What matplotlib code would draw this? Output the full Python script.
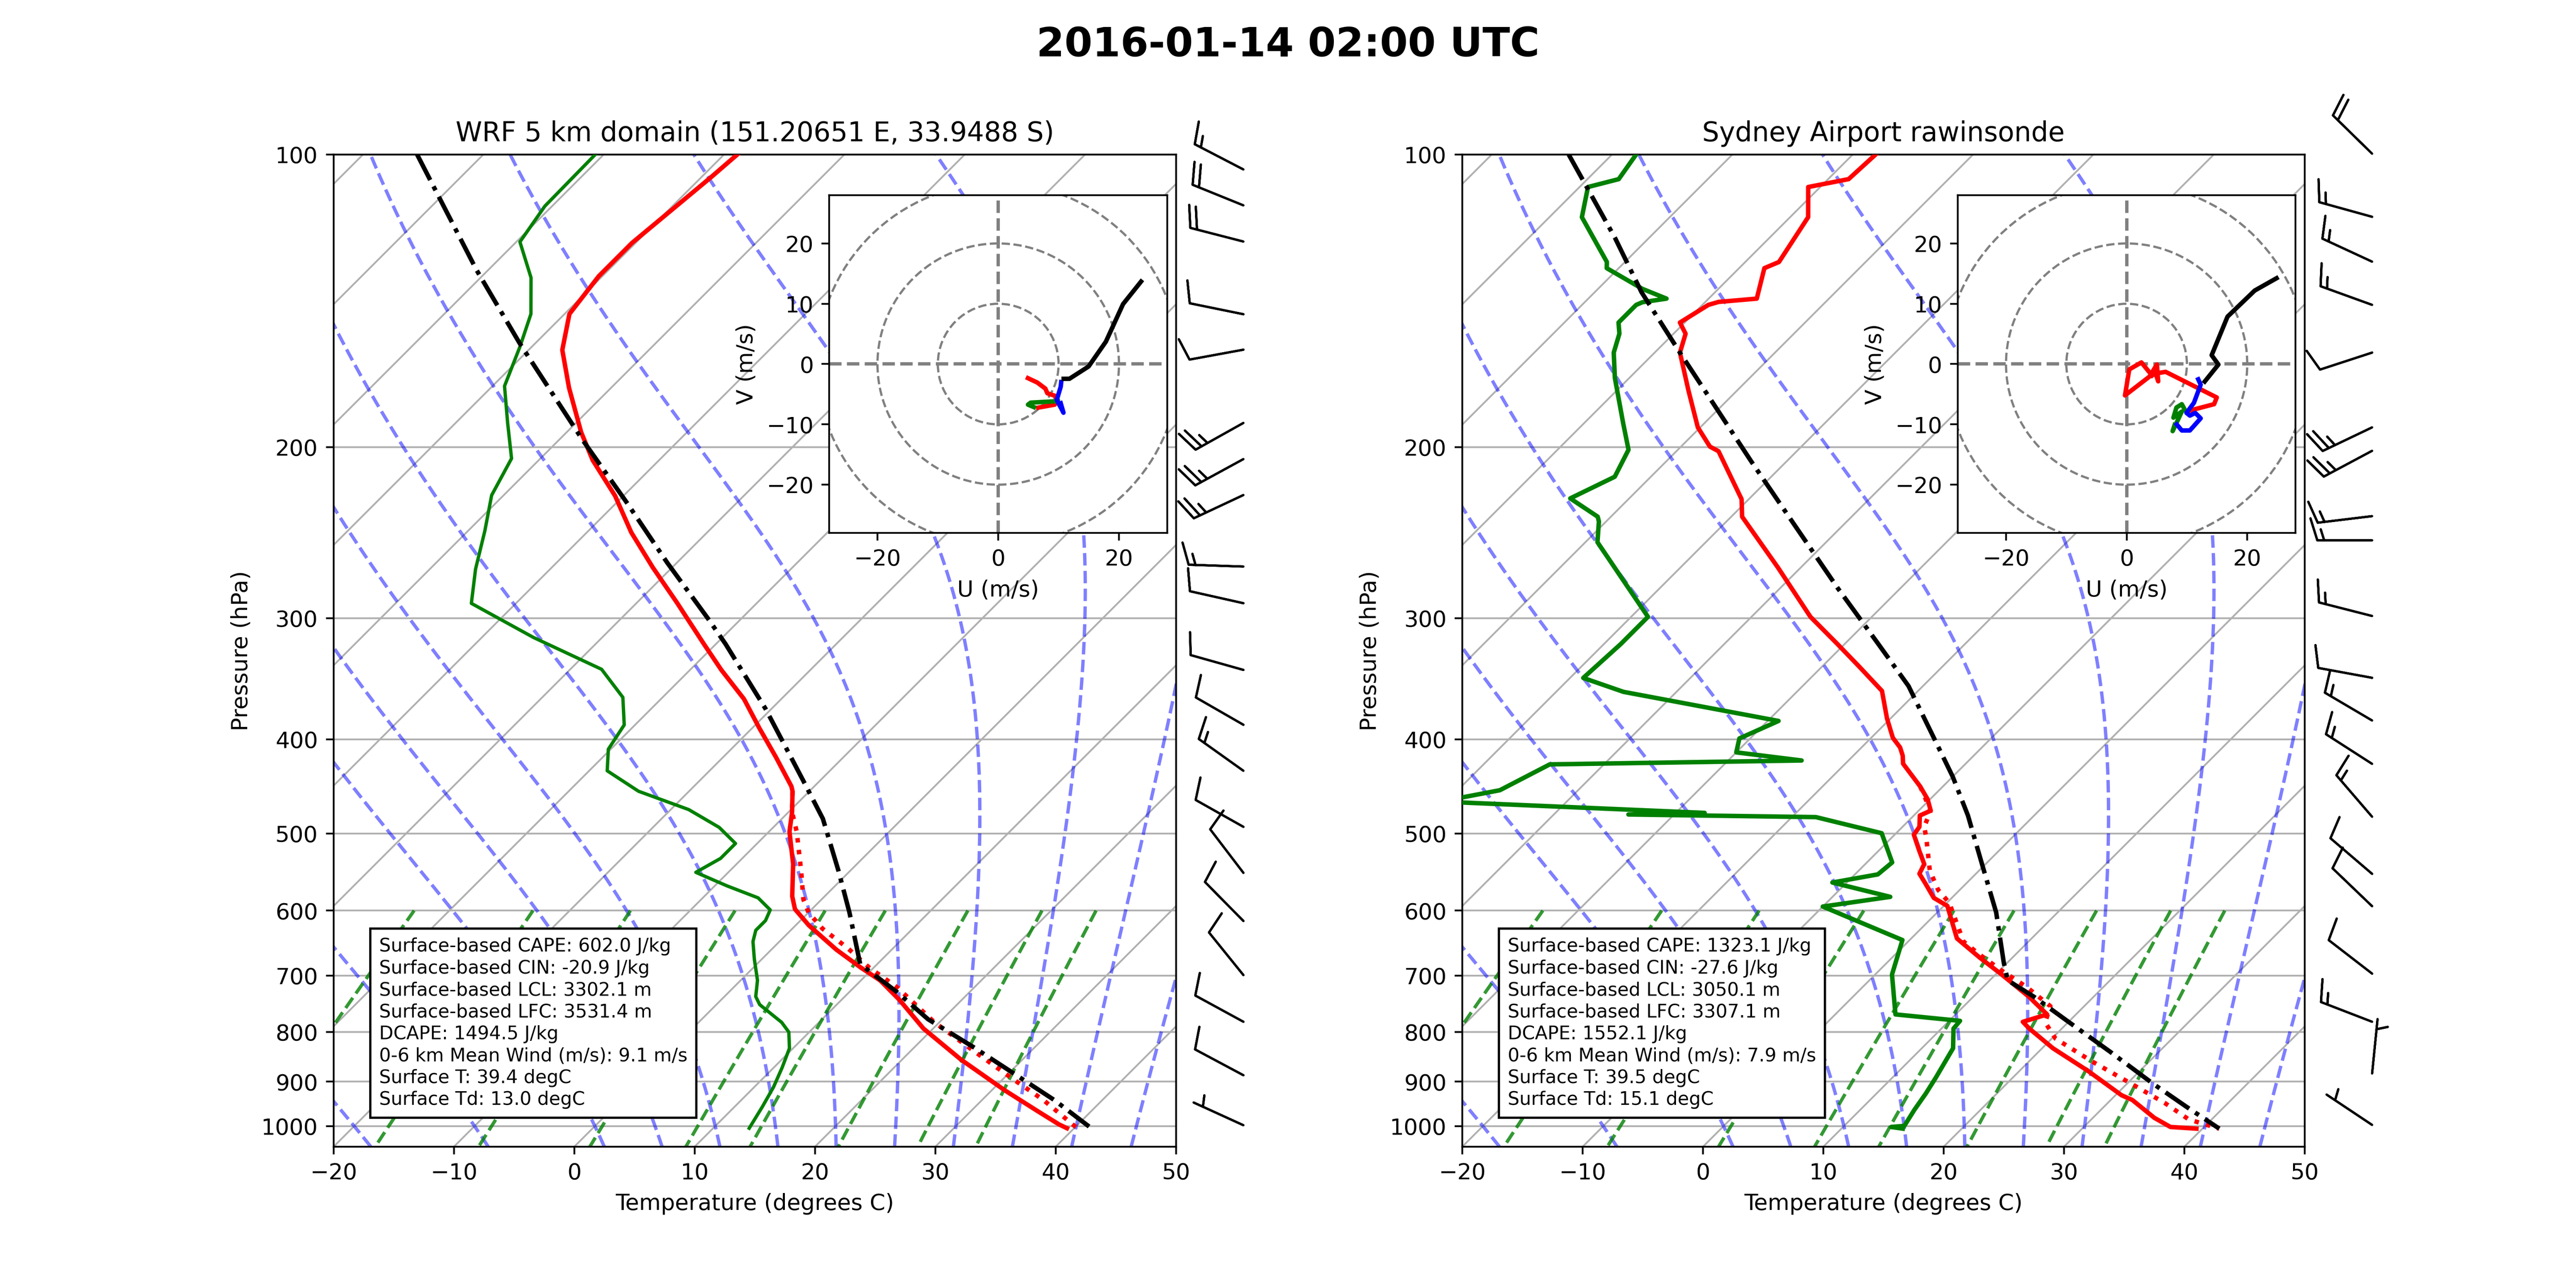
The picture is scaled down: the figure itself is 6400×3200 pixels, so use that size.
import numpy as np
import matplotlib
matplotlib.use("Agg")
import matplotlib.pyplot as plt
from matplotlib.transforms import Affine2D, blended_transform_factory
from matplotlib.ticker import MultipleLocator, ScalarFormatter, NullLocator
from matplotlib.patches import Circle

# ---------------------------------------------------------------- DATA
suptitle = "2016-01-14 02:00 UTC"
titles = ["WRF 5 km domain (151.20651 E, 33.9488 S)", "Sydney Airport rawinsonde"]

# ---- left panel (WRF)
wrf_t_p = [100, 105.6, 123.3, 133.4, 145.9, 158.9, 173.8, 193.1, 206.4, 224.5, 244.9, 266.1,
           289.1, 319, 339.2, 363.4, 389.4, 417.2, 447.0, 452.2, 475.2, 497.6, 537.4, 580.0,
           598.0, 621.4, 658.2, 686.6, 708.0, 741.2, 793.6, 854.2, 918.8, 965.7, 995.7, 1005]
wrf_t = [-68.9, -69.2, -70.3, -70.3, -69.6, -67.2, -63.5, -58.8, -55.5, -50.7, -46.3, -41.6,
         -36.7, -31.0, -27.4, -23.1, -19.4, -15.6, -11.9, -11.4, -9.7, -8.3, -5.3, -2.7,
         -1.4, 1.1, 5.4, 8.9, 11.6, 14.8, 19.2, 24.9, 31.1, 35.6, 38.4, 39.4]
wrf_td_p = [100, 113.0, 123.0, 133.9, 145.9, 157.6, 173.1, 188.8, 205.5, 224.2, 244.0, 267.1,
            289.7, 314.1, 338.7, 362.0, 386.4, 409.3, 430.8, 452.2, 472.3, 492.6, 511.8, 530.2,
            548.0, 565.8, 582.2, 599.0, 614.4, 628.7, 645.7, 673.6, 707.9, 735.6, 749.8, 782.0,
            800.2, 831.5, 870.6, 911.6, 954.6, 1005]
wrf_td = [-80.7, -80.6, -79.7, -75.8, -72.8, -71.0, -69.0, -65.7, -62.4, -61.0, -58.6, -56.2,
          -53.7, -45.7, -37.4, -33.3, -30.9, -30.2, -28.5, -24.2, -18.5, -14.5, -11.8, -11.8,
          -12.7, -9.0, -5.4, -3.4, -2.9, -2.9, -2.2, -0.6, 1.4, 2.6, 3.6, 6.9,
          8.3, 9.7, 10.7, 11.6, 12.3, 13.0]
wrf_parcel_p = [100, 110.5, 131.4, 156.4, 196.8, 228.0, 263.1, 300.2, 319, 371.9, 440.1, 482.6,
                545.7, 602.7, 681.4, 727.2, 776.2, 828.4, 877.4, 940.0, 1001]
wrf_parcel = [-95.5, -90.2, -81.0, -71.3, -58.0, -49.2, -40.8, -32.8, -29.2, -20.5, -11.5, -6.6,
              -1.0, 3.4, 8.6, 13.9, 18.8, 24.8, 29.9, 36.0, 41.1]
wrf_tv_p = [452.2, 475.2, 497.6, 545.7, 584.5, 602.7, 626.2, 655.7, 686.6, 718.9, 782.0, 831.5,
            891.0, 940.0, 1003]
wrf_tv = [-11.4, -9.7, -7.7, -4.1, -1.5, 0.0, 2.5, 6.2, 9.6, 13.5, 19.6, 24.7, 30.5, 35.1, 40.1]
wrf_barb_p = [103.6, 112.8, 122.9, 146.0, 158.8, 188.9, 205.8, 224.1, 265.5, 289.6, 339.2, 386.3,
              430.8, 492.0, 548.7, 615.0, 699.1, 780.9, 886.4, 997.9]
wrf_barb_u = [13.3, 18.5, 19.4, 9.8, 9.8, 21.8, 22.0, 22.6, 15.0, 9.8, 9.6, 8.7,
              12.2, 8.7, 6.1, 7.0, 6.3, 8.8, 8.8, 4.6]
wrf_barb_v = [-6.9, -7.5, -5.0, -2.0, 1.8, 12.2, 12.0, 10.6, -0.5, -2.2, -2.7, -5.0,
              -8.7, -4.9, -8.0, -7.1, -7.8, -4.8, -4.7, -2.1]
wrf_hodo_red_u = [4.59, 6.48, 7.81, 8.14, 9.47, 9.6, 9.36, 6.26]
wrf_hodo_red_v = [-2.18, -3.07, -4.07, -4.84, -5.29, -6.2, -6.73, -7.29]
wrf_hodo_green_u = [6.26, 4.93, 5.37, 7.37, 10.25]
wrf_hodo_green_v = [-7.29, -6.73, -6.40, -6.29, -6.13]
wrf_hodo_blue_u = [10.25, 10.81, 9.70, 10.36, 10.47]
wrf_hodo_blue_v = [-6.13, -8.07, -5.95, -3.73, -2.62]
wrf_hodo_black_u = [10.47, 11.8, 14.97, 17.83, 20.68, 23.89]
wrf_hodo_black_v = [-2.45, -2.44, -0.40, 3.71, 9.95, 13.97]
wrf_stats = ["Surface-based CAPE: 602.0 J/kg", "Surface-based CIN: -20.9 J/kg",
             "Surface-based LCL: 3302.1 m", "Surface-based LFC: 3531.4 m",
             "DCAPE: 1494.5 J/kg", "0-6 km Mean Wind (m/s): 9.1 m/s",
             "Surface T: 39.4 degC", "Surface Td: 13.0 degC"]

# ---- right panel (rawinsonde)
obs_t_p = [100, 106.0, 108.0, 116.0, 129.0, 130.9, 140.7, 141.8, 142.8, 148.9, 152.9, 159.9,
           175.1, 190.9, 199.8, 202.0, 226.3, 235.9, 266.1, 299.1, 319, 336.6, 356.5, 380.5,
           398.4, 407.6, 415.6, 423.6, 447.0, 460.9, 473.5, 479.0, 491.9, 501.3, 520.9, 537.4,
           549.8, 562.6, 582.2, 593.4, 602.7, 641.0, 670.9, 697.2, 735.7, 767.4, 781.0, 793.6,
           831.5, 877.4, 929.4, 940.0, 980.5, 1002, 1006]
obs_t = [-68.1, -68.3, -71.0, -68.5, -67.2, -67.9, -66.0, -68.9, -69.5, -70.4, -69.0, -67.9,
         -64.0, -60.2, -57.6, -56.5, -50.6, -49.1, -41.9, -35.1, -30.6, -26.9, -23.0, -20.3,
         -18.2, -16.8, -15.9, -15.2, -11.9, -10.2, -9.0, -9.5, -8.6, -8.4, -6.6, -5.1,
         -4.7, -3.4, -1.5, 0.3, 1.0, 3.8, 7.3, 10.4, 14.6, 17.6, 16.2, 17.3,
         20.9, 25.7, 30.5, 31.8, 35.1, 37.2, 39.5]
obs_td_p = [100, 106.0, 108.0, 116.0, 129.0, 130.9, 137.5, 140.7, 141.9, 142.8, 148.9, 152.9,
            159.9, 169.8, 188.8, 201.3, 214.6, 225.9, 235.9, 238.6, 250.6, 299.1, 319, 345.7,
            357.3, 382.8, 399.0, 412.4, 420.4, 424.3, 451.1, 463.4, 476.0, 477.8, 480.8, 499.5,
            535.3, 550.7, 561.4, 580.8, 594.3, 643.4, 698.2, 767.4, 779.2, 793.6, 831.5, 891.0,
            925.8, 962.0, 999.5, 1002, 1006]
obs_td = [-88.0, -87.4, -89.3, -87.3, -81.5, -81.0, -76.3, -73.5, -75.2, -75.5, -75.5, -74.5,
          -73.4, -71.2, -66.8, -64.1, -63.0, -64.9, -61.1, -60.6, -59.0, -48.6, -48.6, -48.9,
          -44.4, -29.1, -30.9, -30.0, -23.9, -44.5, -46.5, -50.5, -27.6, -33.8, -18.0, -11.2,
          -7.9, -8.1, -11.2, -5.2, -10.0, -0.6, 1.4, 5.0, 10.9, 11.0, 12.6, 13.6,
          14.1, 14.5, 15.0, 14.0, 15.1]
obs_parcel_p = [100, 108.4, 121.9, 138.6, 159.9, 180.4, 206.7, 240.4, 279.5, 319, 352.4, 392.3,
                436.8, 479.0, 537.4, 602.7, 678.8, 707.9, 735.6, 779.2, 838.0, 904.8, 954.6, 1006]
obs_parcel = [-93.6, -89.2, -82.8, -76.1, -67.9, -60.9, -53.0, -44.1, -35.2, -27.2, -21.2, -15.6,
              -10.0, -5.5, -0.3, 4.9, 9.7, 11.5, 15.0, 19.8, 25.9, 32.2, 36.8, 41.4]
obs_tv_p = [447.0, 473.5, 491.9, 505.1, 545.7, 571.3, 589.1, 645.7, 665.8, 691.8, 718.9, 752.7,
            782.0, 812.6, 857.5, 904.8, 947.3, 984.3, 1006]
obs_tv = [-11.9, -9.0, -8.2, -7.1, -4.1, -1.8, 0.2, 4.6, 7.0, 10.2, 13.6, 17.2,
          18.1, 20.3, 25.2, 30.4, 34.8, 38.1, 41.4]
obs_barb_p = [99.8, 115.9, 128.9, 142.8, 159.9, 190.9, 201.8, 235.6, 249.5, 298.5, 345.6, 382.4,
              423.8, 480.4, 550.0, 593.8, 696.7, 780.9, 882.8, 997.2]
obs_barb_u = [14.3, 14.45, 13.6, 14.1, 9.5, 22.6, 22.1, 14.9, 15.0, 14.5, 9.8, 12.9,
              12.6, 9.8, 7.6, 7.2, 7.9, 14.0, -0.5, 4.2]
obs_barb_v = [-14.0, -4.0, -6.3, -5.1, 3.1, 10.8, 11.8, 1.8, 0.0, -3.7, -1.8, -7.6,
              -8.1, -11.4, -6.5, -6.9, -6.1, -5.4, -5.0, -2.8]
obs_hodo_red_u = [4.46, 2.45, 0.44, -0.27, 3.79, 5.02, 5.24, 4.80, 6.47, 14.95, 14.51, 9.82]
obs_hodo_red_v = [-2.19, 0.27, -0.89, -5.20, -2.08, -0.07, -2.86, -1.56, -1.29, -5.54, -6.65, -7.88]
obs_hodo_green_u = [9.82, 9.15, 8.26, 7.76, 9.15, 7.63, 8.08]
obs_hodo_green_v = [-7.88, -6.65, -7.21, -8.89, -7.88, -11.12, -9.73]
obs_hodo_blue_u = [8.08, 9.15, 10.49, 12.28, 11.38, 10.49, 9.93, 11.16, 12.28, 11.72]
obs_hodo_blue_v = [-9.73, -11.01, -11.01, -9.00, -8.10, -8.55, -8.10, -6.43, -3.42, -2.19]
obs_hodo_black_u = [12.72, 15.22, 14.10, 16.73, 21.24, 25.19]
obs_hodo_black_v = [-3.19, -0.08, 1.47, 7.86, 12.19, 14.42]
obs_stats = ["Surface-based CAPE: 1323.1 J/kg", "Surface-based CIN: -27.6 J/kg",
             "Surface-based LCL: 3050.1 m", "Surface-based LFC: 3307.1 m",
             "DCAPE: 1552.1 J/kg", "0-6 km Mean Wind (m/s): 7.9 m/s",
             "Surface T: 39.5 degC", "Surface Td: 15.1 degC"]

# background reference-line parameters (MetPy defaults)
moist_t0 = [-20, -10, 0, 5, 10, 15, 20, 25, 30, 35, 40, 45, 50]
mixing_ratios = [0.0004, 0.001, 0.002, 0.004, 0.007, 0.01, 0.016, 0.024, 0.032]
isotherms = list(range(-100, 60, 10))

# ---------------------------------------------------------------- helpers
FIG_W, FIG_H = 16, 8
RD, CP, LV, EPS = 287.04749, 1004.6662, 2.50084e6, 0.6219569


def moist_lapse(t0_c, p_ref=1000.0):
    """Integrate pseudo-adiabats from p_ref; returns pressure grid and temps (degC)."""
    def f(p, T):
        es = 6.112 * np.exp(17.67 * (T - 273.15) / (T - 29.65))
        rs = EPS * es / (p - es)
        return (RD * T + LV * rs) / (CP + LV * LV * rs * EPS / (RD * T * T)) / p

    def integrate(p_grid):
        T = np.asarray(t0_c, float) + 273.15
        out = [T.copy()]
        for i in range(1, len(p_grid)):
            p, h = p_grid[i - 1], p_grid[i] - p_grid[i - 1]
            k1 = f(p, T)
            k2 = f(p + h / 2, T + h / 2 * k1)
            k3 = f(p + h / 2, T + h / 2 * k2)
            k4 = f(p + h, T + h * k3)
            T = T + h / 6 * (k1 + 2 * k2 + 2 * k3 + k4)
            out.append(T.copy())
        return np.array(out)

    up = np.linspace(p_ref, 100, 451)
    down = np.linspace(p_ref, 1050, 26)
    tu = integrate(up)
    td = integrate(down)
    p_all = np.concatenate([down[::-1], up[1:]])
    t_all = np.concatenate([td[::-1], tu[1:]]) - 273.15
    return p_all, t_all


def setup_skew(ax):
    ax.set_yscale("log")
    ax.set_xlim(-20, 50)
    ax.set_ylim(1050, 100)
    ax.yaxis.set_major_locator(MultipleLocator(100))
    ax.yaxis.set_major_formatter(ScalarFormatter())
    ax.yaxis.set_minor_locator(NullLocator())
    ax.xaxis.set_major_locator(MultipleLocator(10))
    ax.yaxis.grid(True, color="#b0b0b0", linewidth=0.8)
    ax.set_axisbelow(True)
    pos = ax.get_position()
    k = (pos.height * FIG_H) / (pos.width * FIG_W)
    shear = Affine2D(np.array([[1.0, k, 0.0], [0.0, 1.0, 0.0], [0.0, 0.0, 1.0]]))
    return ax.transScale + ax.transLimits + shear + ax.transAxes


def draw_background(ax, tr):
    for t in isotherms:
        ax.plot([t, t], [1050, 100], transform=tr, color="#b0b0b0", lw=0.8, zorder=0.6)
    p_ma, t_ma = moist_lapse(moist_t0)
    for j in range(len(moist_t0)):
        ax.plot(t_ma[:, j], p_ma, transform=tr, color="b", alpha=0.5, ls="--", lw=1.5, zorder=1)
    p_mix = np.linspace(600, 1050, 50)
    for w in mixing_ratios:
        e = p_mix * w / (EPS + w)
        le = np.log(e / 6.112)
        td = 243.5 * le / (17.67 - le)
        ax.plot(td, p_mix, transform=tr, color="g", alpha=0.8, ls="--", lw=1.5, zorder=1)


def draw_hodo(hax, segs):
    hax.set_xlim(-28, 28)
    hax.set_ylim(-28, 28)
    for r in (10, 20, 30, 40):
        hax.add_patch(Circle((0, 0), r, fill=False, edgecolor="grey", ls="--", lw=1.0))
    hax.axhline(0, color="grey", ls="--", lw=1.5)
    hax.axvline(0, color="grey", ls="--", lw=1.5)
    for (u, v, c) in segs:
        hax.plot(u, v, color=c, lw=2, solid_capstyle="butt")
    hax.set_xticks([-20, 0, 20])
    hax.set_yticks([-20, -10, 0, 10, 20])
    hax.set_xlabel("U (m/s)")
    hax.set_ylabel("V (m/s)")


# ---------------------------------------------------------------- figure
fig = plt.figure(figsize=(FIG_W, FIG_H))
fig.suptitle(suptitle, fontsize=18, fontweight="bold")

panels = [
    dict(pos=[0.1295, 0.1097, 0.32703, 0.77031], hpos=[0.32188, 0.58625, 0.13125, 0.26219],
         t=(wrf_t_p, wrf_t), td=(wrf_td_p, wrf_td), pc=(wrf_parcel_p, wrf_parcel),
         tv=(wrf_tv_p, wrf_tv), tdlw=1.5,
         barbs=(wrf_barb_p, wrf_barb_u, wrf_barb_v),
         hodo=[(wrf_hodo_red_u, wrf_hodo_red_v, "r"), (wrf_hodo_green_u, wrf_hodo_green_v, "g"),
               (wrf_hodo_blue_u, wrf_hodo_blue_v, "b"), (wrf_hodo_black_u, wrf_hodo_black_v, "k")],
         stats=wrf_stats, title=titles[0]),
    dict(pos=[0.56766, 0.1097, 0.32703, 0.77031], hpos=[0.76, 0.58625, 0.1311, 0.26219],
         t=(obs_t_p, obs_t), td=(obs_td_p, obs_td), pc=(obs_parcel_p, obs_parcel),
         tv=(obs_tv_p, obs_tv), tdlw=2.0,
         barbs=(obs_barb_p, obs_barb_u, obs_barb_v),
         hodo=[(obs_hodo_red_u, obs_hodo_red_v, "r"), (obs_hodo_green_u, obs_hodo_green_v, "g"),
               (obs_hodo_blue_u, obs_hodo_blue_v, "b"), (obs_hodo_black_u, obs_hodo_black_v, "k")],
         stats=obs_stats, title=titles[1]),
]

for pnl in panels:
    ax = fig.add_axes(pnl["pos"])
    tr = setup_skew(ax)
    draw_background(ax, tr)
    ax.plot(pnl["t"][1], pnl["t"][0], transform=tr, color="r", lw=2, zorder=3)
    ax.plot(pnl["td"][1], pnl["td"][0], transform=tr, color="g", lw=pnl["tdlw"], zorder=3)
    ax.plot(pnl["tv"][1], pnl["tv"][0], transform=tr, color="r", ls=":", lw=2, zorder=3)
    ax.plot(pnl["pc"][1], pnl["pc"][0], transform=tr, color="k", ls="-.", lw=2, zorder=3)
    bp, bu, bv = pnl["barbs"]
    btr = blended_transform_factory(ax.transAxes, ax.transData)
    ax.barbs(np.full(len(bp), 1.08), bp, bu, bv, transform=btr, clip_on=False, length=7,
             zorder=4)
    ax.set_xlim(-20, 50)
    ax.set_ylim(1050, 100)
    ax.set_xlabel("Temperature (degrees C)")
    ax.set_ylabel("Pressure (hPa)")
    ax.set_title(pnl["title"])
    ax.text(0.054, 0.038, "\n".join(pnl["stats"]), transform=ax.transAxes, fontsize=8.25,
            va="bottom", ha="left", zorder=6, linespacing=1.27,
            bbox=dict(facecolor="white", edgecolor="black"))
    hax = fig.add_axes(pnl["hpos"])
    draw_hodo(hax, pnl["hodo"])

fig.savefig("out.png", dpi=400)
